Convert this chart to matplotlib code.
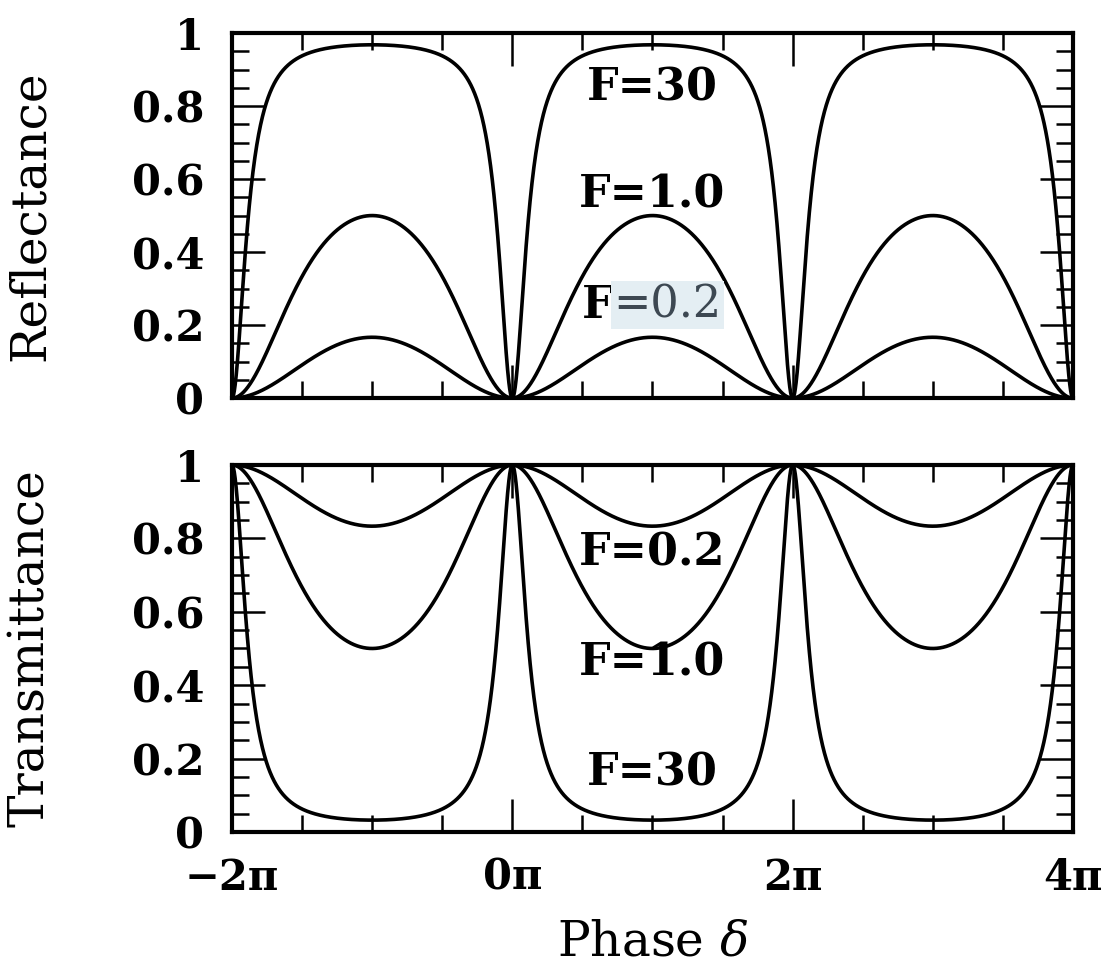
import numpy as np
import matplotlib
matplotlib.use("Agg")
import matplotlib.pyplot as plt
from matplotlib.ticker import MultipleLocator, FixedLocator

# ---- data ----
finesse_F = [30, 1.0, 0.2]                  # coefficient of finesse for each curve
refl_labels = ["F=30", "F=1.0", "F=0.2"]
refl_label_y = [0.85, 0.555, 0.255]
trans_labels = ["F=0.2", "F=1.0", "F=30"]
trans_label_y = [0.76, 0.46, 0.16]
xtick_pos = [-2, 0, 2, 4]                   # in units of pi
xtick_labels = ["\u22122\u03c0", "0\u03c0", "2\u03c0", "4\u03c0"]
ytick_pos = [0, 0.2, 0.4, 0.6, 0.8, 1.0]
ytick_labels = ["0", "0.2", "0.4", "0.6", "0.8", "1"]

delta = np.linspace(-2 * np.pi, 4 * np.pi, 4001)

plt.rcParams['font.family'] = ['DejaVu Serif']
plt.rcParams['mathtext.fontset'] = 'dejavuserif'
FS = 30
LFS = 35
TFS = 32

fig = plt.figure(figsize=(11.11, 9.71), dpi=100)
ax1 = fig.add_axes([0.2088, 0.590, 0.7570, 0.376])
ax2 = fig.add_axes([0.2088, 0.1432, 0.7570, 0.3779])

for ax in (ax1, ax2):
    s2 = np.sin(delta / 2) ** 2
    for F in finesse_F:
        if ax is ax1:
            y = F * s2 / (1 + F * s2)
        else:
            y = 1 / (1 + F * s2)
        ax.plot(delta, y, color='black', lw=2.6, solid_capstyle='butt')
    ax.set_xlim(-2 * np.pi, 4 * np.pi)
    ax.set_ylim(0, 1)
    ax.xaxis.set_major_locator(FixedLocator([p * np.pi for p in xtick_pos]))
    ax.xaxis.set_minor_locator(MultipleLocator(np.pi / 2))
    ax.yaxis.set_major_locator(FixedLocator(ytick_pos))
    ax.yaxis.set_minor_locator(MultipleLocator(0.05))
    ax.set_yticklabels(ytick_labels, fontsize=FS, fontweight='bold')
    ax.tick_params(which='both', direction='in', top=True, right=True, width=1.8, color='black')
    ax.tick_params(which='major', length=24, pad=20)
    ax.tick_params(which='minor', length=12)
    for sp in ax.spines.values():
        sp.set_linewidth(3.0)

ax1.set_xticklabels([])
ax2.set_xticklabels(xtick_labels, fontsize=FS, fontweight='bold')
ax2.tick_params(axis='x', which='major', pad=18)

ax1.set_ylabel("Reflectance", fontsize=LFS, fontweight='normal')
ax2.set_ylabel("Transmittance", fontsize=LFS, fontweight='normal')
ax2.set_xlabel("Phase $\\delta$", fontsize=LFS, fontweight='normal', labelpad=14)
ax1.yaxis.set_label_coords(-0.212, 0.5)
ax2.yaxis.set_label_coords(-0.212, 0.5)

for lab, yy in zip(refl_labels, refl_label_y):
    if lab == "F=0.2":
        ax1.text(0.72 * np.pi, yy, "F", fontsize=TFS, fontweight='bold', ha='right', va='center')
        ax1.text(0.72 * np.pi, yy, "=0.2", fontsize=TFS, fontweight='normal', ha='left', va='center',
                 color='#3d4852', bbox=dict(boxstyle='square,pad=0.05', fc='#e4eef3', ec='none'))
    else:
        ax1.text(np.pi, yy, lab, fontsize=TFS, fontweight='bold', ha='center', va='center')
for lab, yy in zip(trans_labels, trans_label_y):
    ax2.text(np.pi, yy, lab, fontsize=TFS, fontweight='bold', ha='center', va='center')

fig.savefig("out.png", dpi=100)
